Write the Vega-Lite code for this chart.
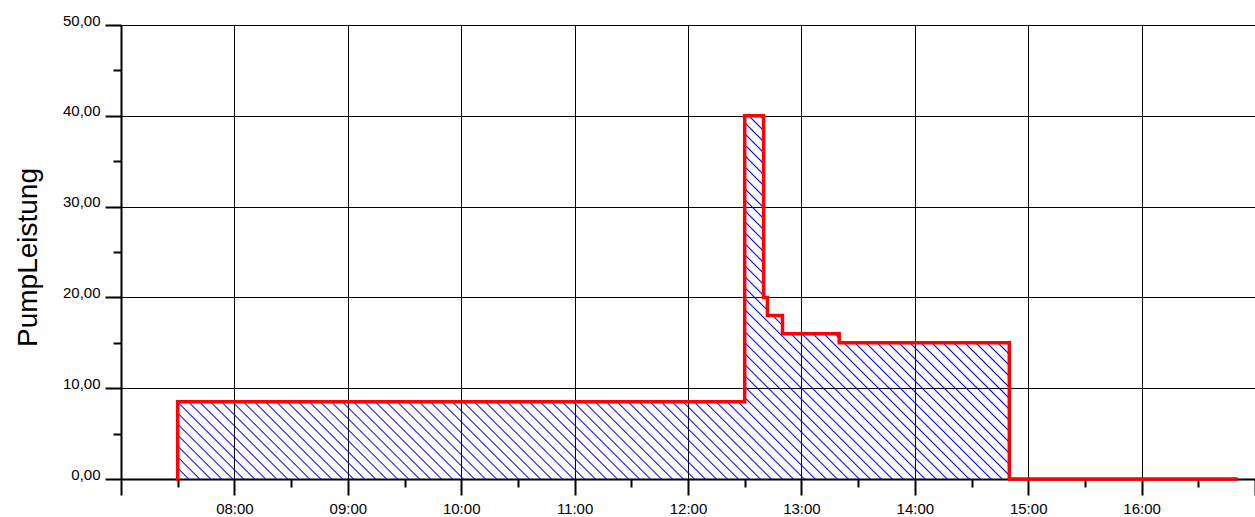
{
"$schema": "https://vega.github.io/schema/vega-lite/v6.json",
"width": 1134, "height": 454,
"autosize": {"type": "none"},
"padding": {"left": 121, "top": 25, "right": 0, "bottom": 38},
"background": "white",
"config": {"font": "Liberation Sans", "view": {"stroke": null}},
"data": {
"values": [
{"hour": 7.5, "p": 0},
{"hour": 7.5, "p": 8.5},
{"hour": 12.5, "p": 40},
{"hour": 12.6667, "p": 20},
{"hour": 12.7, "p": 18},
{"hour": 12.8333, "p": 16},
{"hour": 13.3333, "p": 15},
{"hour": 14.8333, "p": 0},
{"hour": 16.8333, "p": 0}
]
},
"layer": [
{
"transform": [{"filter": "datum.hour < 15"}],
"mark": {"type": "area", "interpolate": "step-after",
"fill": {"gradient": "linear", "x1": 0, "y1": 1, "x2": 1.20659, "y2": 0.47302, "stops": [
{"offset":0,"color":"#0000ff"},{"offset":0.0012,"color":"rgba(0,0,255,0)"},
{"offset":0.0080,"color":"rgba(0,0,255,0)"},{"offset":0.0092,"color":"#0000ff"},{"offset":0.0104,"color":"rgba(0,0,255,0)"},
{"offset":0.0172,"color":"rgba(0,0,255,0)"},{"offset":0.0184,"color":"#0000ff"},{"offset":0.0196,"color":"rgba(0,0,255,0)"},
{"offset":0.0264,"color":"rgba(0,0,255,0)"},{"offset":0.0276,"color":"#0000ff"},{"offset":0.0288,"color":"rgba(0,0,255,0)"},
{"offset":0.0356,"color":"rgba(0,0,255,0)"},{"offset":0.0368,"color":"#0000ff"},{"offset":0.0380,"color":"rgba(0,0,255,0)"},
{"offset":0.0448,"color":"rgba(0,0,255,0)"},{"offset":0.0460,"color":"#0000ff"},{"offset":0.0472,"color":"rgba(0,0,255,0)"},
{"offset":0.0540,"color":"rgba(0,0,255,0)"},{"offset":0.0552,"color":"#0000ff"},{"offset":0.0564,"color":"rgba(0,0,255,0)"},
{"offset":0.0632,"color":"rgba(0,0,255,0)"},{"offset":0.0644,"color":"#0000ff"},{"offset":0.0656,"color":"rgba(0,0,255,0)"},
{"offset":0.0724,"color":"rgba(0,0,255,0)"},{"offset":0.0736,"color":"#0000ff"},{"offset":0.0748,"color":"rgba(0,0,255,0)"},
{"offset":0.0816,"color":"rgba(0,0,255,0)"},{"offset":0.0828,"color":"#0000ff"},{"offset":0.0840,"color":"rgba(0,0,255,0)"},
{"offset":0.0908,"color":"rgba(0,0,255,0)"},{"offset":0.0920,"color":"#0000ff"},{"offset":0.0932,"color":"rgba(0,0,255,0)"},
{"offset":0.1000,"color":"rgba(0,0,255,0)"},{"offset":0.1012,"color":"#0000ff"},{"offset":0.1024,"color":"rgba(0,0,255,0)"},
{"offset":0.1092,"color":"rgba(0,0,255,0)"},{"offset":0.1104,"color":"#0000ff"},{"offset":0.1116,"color":"rgba(0,0,255,0)"},
{"offset":0.1184,"color":"rgba(0,0,255,0)"},{"offset":0.1196,"color":"#0000ff"},{"offset":0.1208,"color":"rgba(0,0,255,0)"},
{"offset":0.1276,"color":"rgba(0,0,255,0)"},{"offset":0.1288,"color":"#0000ff"},{"offset":0.1300,"color":"rgba(0,0,255,0)"},
{"offset":0.1368,"color":"rgba(0,0,255,0)"},{"offset":0.1380,"color":"#0000ff"},{"offset":0.1392,"color":"rgba(0,0,255,0)"},
{"offset":0.1460,"color":"rgba(0,0,255,0)"},{"offset":0.1472,"color":"#0000ff"},{"offset":0.1484,"color":"rgba(0,0,255,0)"},
{"offset":0.1552,"color":"rgba(0,0,255,0)"},{"offset":0.1564,"color":"#0000ff"},{"offset":0.1576,"color":"rgba(0,0,255,0)"},
{"offset":0.1644,"color":"rgba(0,0,255,0)"},{"offset":0.1656,"color":"#0000ff"},{"offset":0.1668,"color":"rgba(0,0,255,0)"},
{"offset":0.1736,"color":"rgba(0,0,255,0)"},{"offset":0.1748,"color":"#0000ff"},{"offset":0.1760,"color":"rgba(0,0,255,0)"},
{"offset":0.1828,"color":"rgba(0,0,255,0)"},{"offset":0.1840,"color":"#0000ff"},{"offset":0.1852,"color":"rgba(0,0,255,0)"},
{"offset":0.1920,"color":"rgba(0,0,255,0)"},{"offset":0.1932,"color":"#0000ff"},{"offset":0.1944,"color":"rgba(0,0,255,0)"},
{"offset":0.2012,"color":"rgba(0,0,255,0)"},{"offset":0.2024,"color":"#0000ff"},{"offset":0.2036,"color":"rgba(0,0,255,0)"},
{"offset":0.2104,"color":"rgba(0,0,255,0)"},{"offset":0.2116,"color":"#0000ff"},{"offset":0.2128,"color":"rgba(0,0,255,0)"},
{"offset":0.2196,"color":"rgba(0,0,255,0)"},{"offset":0.2208,"color":"#0000ff"},{"offset":0.2220,"color":"rgba(0,0,255,0)"},
{"offset":0.2288,"color":"rgba(0,0,255,0)"},{"offset":0.2300,"color":"#0000ff"},{"offset":0.2312,"color":"rgba(0,0,255,0)"},
{"offset":0.2380,"color":"rgba(0,0,255,0)"},{"offset":0.2392,"color":"#0000ff"},{"offset":0.2404,"color":"rgba(0,0,255,0)"},
{"offset":0.2472,"color":"rgba(0,0,255,0)"},{"offset":0.2484,"color":"#0000ff"},{"offset":0.2496,"color":"rgba(0,0,255,0)"},
{"offset":0.2564,"color":"rgba(0,0,255,0)"},{"offset":0.2576,"color":"#0000ff"},{"offset":0.2588,"color":"rgba(0,0,255,0)"},
{"offset":0.2656,"color":"rgba(0,0,255,0)"},{"offset":0.2668,"color":"#0000ff"},{"offset":0.2680,"color":"rgba(0,0,255,0)"},
{"offset":0.2748,"color":"rgba(0,0,255,0)"},{"offset":0.2760,"color":"#0000ff"},{"offset":0.2772,"color":"rgba(0,0,255,0)"},
{"offset":0.2840,"color":"rgba(0,0,255,0)"},{"offset":0.2852,"color":"#0000ff"},{"offset":0.2864,"color":"rgba(0,0,255,0)"},
{"offset":0.2932,"color":"rgba(0,0,255,0)"},{"offset":0.2944,"color":"#0000ff"},{"offset":0.2956,"color":"rgba(0,0,255,0)"},
{"offset":0.3024,"color":"rgba(0,0,255,0)"},{"offset":0.3036,"color":"#0000ff"},{"offset":0.3048,"color":"rgba(0,0,255,0)"},
{"offset":0.3116,"color":"rgba(0,0,255,0)"},{"offset":0.3128,"color":"#0000ff"},{"offset":0.3140,"color":"rgba(0,0,255,0)"},
{"offset":0.3208,"color":"rgba(0,0,255,0)"},{"offset":0.3220,"color":"#0000ff"},{"offset":0.3232,"color":"rgba(0,0,255,0)"},
{"offset":0.3300,"color":"rgba(0,0,255,0)"},{"offset":0.3312,"color":"#0000ff"},{"offset":0.3324,"color":"rgba(0,0,255,0)"},
{"offset":0.3392,"color":"rgba(0,0,255,0)"},{"offset":0.3404,"color":"#0000ff"},{"offset":0.3416,"color":"rgba(0,0,255,0)"},
{"offset":0.3484,"color":"rgba(0,0,255,0)"},{"offset":0.3496,"color":"#0000ff"},{"offset":0.3508,"color":"rgba(0,0,255,0)"},
{"offset":0.3576,"color":"rgba(0,0,255,0)"},{"offset":0.3588,"color":"#0000ff"},{"offset":0.3600,"color":"rgba(0,0,255,0)"},
{"offset":0.3668,"color":"rgba(0,0,255,0)"},{"offset":0.3680,"color":"#0000ff"},{"offset":0.3692,"color":"rgba(0,0,255,0)"},
{"offset":0.3760,"color":"rgba(0,0,255,0)"},{"offset":0.3772,"color":"#0000ff"},{"offset":0.3784,"color":"rgba(0,0,255,0)"},
{"offset":0.3852,"color":"rgba(0,0,255,0)"},{"offset":0.3864,"color":"#0000ff"},{"offset":0.3876,"color":"rgba(0,0,255,0)"},
{"offset":0.3944,"color":"rgba(0,0,255,0)"},{"offset":0.3956,"color":"#0000ff"},{"offset":0.3968,"color":"rgba(0,0,255,0)"},
{"offset":0.4036,"color":"rgba(0,0,255,0)"},{"offset":0.4048,"color":"#0000ff"},{"offset":0.4060,"color":"rgba(0,0,255,0)"},
{"offset":0.4128,"color":"rgba(0,0,255,0)"},{"offset":0.4140,"color":"#0000ff"},{"offset":0.4152,"color":"rgba(0,0,255,0)"},
{"offset":0.4220,"color":"rgba(0,0,255,0)"},{"offset":0.4232,"color":"#0000ff"},{"offset":0.4244,"color":"rgba(0,0,255,0)"},
{"offset":0.4312,"color":"rgba(0,0,255,0)"},{"offset":0.4324,"color":"#0000ff"},{"offset":0.4336,"color":"rgba(0,0,255,0)"},
{"offset":0.4404,"color":"rgba(0,0,255,0)"},{"offset":0.4416,"color":"#0000ff"},{"offset":0.4428,"color":"rgba(0,0,255,0)"},
{"offset":0.4496,"color":"rgba(0,0,255,0)"},{"offset":0.4508,"color":"#0000ff"},{"offset":0.4520,"color":"rgba(0,0,255,0)"},
{"offset":0.4588,"color":"rgba(0,0,255,0)"},{"offset":0.4600,"color":"#0000ff"},{"offset":0.4612,"color":"rgba(0,0,255,0)"},
{"offset":0.4680,"color":"rgba(0,0,255,0)"},{"offset":0.4692,"color":"#0000ff"},{"offset":0.4704,"color":"rgba(0,0,255,0)"},
{"offset":0.4772,"color":"rgba(0,0,255,0)"},{"offset":0.4784,"color":"#0000ff"},{"offset":0.4796,"color":"rgba(0,0,255,0)"},
{"offset":0.4864,"color":"rgba(0,0,255,0)"},{"offset":0.4876,"color":"#0000ff"},{"offset":0.4888,"color":"rgba(0,0,255,0)"},
{"offset":0.4956,"color":"rgba(0,0,255,0)"},{"offset":0.4968,"color":"#0000ff"},{"offset":0.4980,"color":"rgba(0,0,255,0)"},
{"offset":0.5048,"color":"rgba(0,0,255,0)"},{"offset":0.5060,"color":"#0000ff"},{"offset":0.5072,"color":"rgba(0,0,255,0)"},
{"offset":0.5140,"color":"rgba(0,0,255,0)"},{"offset":0.5152,"color":"#0000ff"},{"offset":0.5164,"color":"rgba(0,0,255,0)"},
{"offset":0.5232,"color":"rgba(0,0,255,0)"},{"offset":0.5244,"color":"#0000ff"},{"offset":0.5256,"color":"rgba(0,0,255,0)"},
{"offset":0.5324,"color":"rgba(0,0,255,0)"},{"offset":0.5336,"color":"#0000ff"},{"offset":0.5348,"color":"rgba(0,0,255,0)"},
{"offset":0.5416,"color":"rgba(0,0,255,0)"},{"offset":0.5428,"color":"#0000ff"},{"offset":0.5440,"color":"rgba(0,0,255,0)"},
{"offset":0.5508,"color":"rgba(0,0,255,0)"},{"offset":0.5520,"color":"#0000ff"},{"offset":0.5532,"color":"rgba(0,0,255,0)"},
{"offset":0.5600,"color":"rgba(0,0,255,0)"},{"offset":0.5612,"color":"#0000ff"},{"offset":0.5624,"color":"rgba(0,0,255,0)"},
{"offset":0.5692,"color":"rgba(0,0,255,0)"},{"offset":0.5704,"color":"#0000ff"},{"offset":0.5716,"color":"rgba(0,0,255,0)"},
{"offset":0.5784,"color":"rgba(0,0,255,0)"},{"offset":0.5796,"color":"#0000ff"},{"offset":0.5808,"color":"rgba(0,0,255,0)"},
{"offset":0.5876,"color":"rgba(0,0,255,0)"},{"offset":0.5888,"color":"#0000ff"},{"offset":0.5900,"color":"rgba(0,0,255,0)"},
{"offset":0.5968,"color":"rgba(0,0,255,0)"},{"offset":0.5980,"color":"#0000ff"},{"offset":0.5992,"color":"rgba(0,0,255,0)"},
{"offset":0.6060,"color":"rgba(0,0,255,0)"},{"offset":0.6072,"color":"#0000ff"},{"offset":0.6084,"color":"rgba(0,0,255,0)"},
{"offset":0.6152,"color":"rgba(0,0,255,0)"},{"offset":0.6164,"color":"#0000ff"},{"offset":0.6176,"color":"rgba(0,0,255,0)"},
{"offset":0.6244,"color":"rgba(0,0,255,0)"},{"offset":0.6256,"color":"#0000ff"},{"offset":0.6268,"color":"rgba(0,0,255,0)"},
{"offset":0.6336,"color":"rgba(0,0,255,0)"},{"offset":0.6348,"color":"#0000ff"},{"offset":0.6360,"color":"rgba(0,0,255,0)"},
{"offset":0.6428,"color":"rgba(0,0,255,0)"},{"offset":0.6440,"color":"#0000ff"},{"offset":0.6452,"color":"rgba(0,0,255,0)"},
{"offset":0.6520,"color":"rgba(0,0,255,0)"},{"offset":0.6532,"color":"#0000ff"},{"offset":0.6544,"color":"rgba(0,0,255,0)"},
{"offset":0.6612,"color":"rgba(0,0,255,0)"},{"offset":0.6624,"color":"#0000ff"},{"offset":0.6636,"color":"rgba(0,0,255,0)"},
{"offset":0.6704,"color":"rgba(0,0,255,0)"},{"offset":0.6716,"color":"#0000ff"},{"offset":0.6728,"color":"rgba(0,0,255,0)"},
{"offset":0.6796,"color":"rgba(0,0,255,0)"},{"offset":0.6808,"color":"#0000ff"},{"offset":0.6820,"color":"rgba(0,0,255,0)"},
{"offset":0.6888,"color":"rgba(0,0,255,0)"},{"offset":0.6900,"color":"#0000ff"},{"offset":0.6912,"color":"rgba(0,0,255,0)"},
{"offset":0.6980,"color":"rgba(0,0,255,0)"},{"offset":0.6992,"color":"#0000ff"},{"offset":0.7004,"color":"rgba(0,0,255,0)"},
{"offset":0.7072,"color":"rgba(0,0,255,0)"},{"offset":0.7084,"color":"#0000ff"},{"offset":0.7096,"color":"rgba(0,0,255,0)"},
{"offset":0.7164,"color":"rgba(0,0,255,0)"},{"offset":0.7176,"color":"#0000ff"},{"offset":0.7188,"color":"rgba(0,0,255,0)"},
{"offset":0.7256,"color":"rgba(0,0,255,0)"},{"offset":0.7268,"color":"#0000ff"},{"offset":0.7280,"color":"rgba(0,0,255,0)"},
{"offset":0.7348,"color":"rgba(0,0,255,0)"},{"offset":0.7360,"color":"#0000ff"},{"offset":0.7372,"color":"rgba(0,0,255,0)"},
{"offset":0.7440,"color":"rgba(0,0,255,0)"},{"offset":0.7452,"color":"#0000ff"},{"offset":0.7464,"color":"rgba(0,0,255,0)"},
{"offset":0.7532,"color":"rgba(0,0,255,0)"},{"offset":0.7544,"color":"#0000ff"},{"offset":0.7556,"color":"rgba(0,0,255,0)"},
{"offset":0.7624,"color":"rgba(0,0,255,0)"},{"offset":0.7636,"color":"#0000ff"},{"offset":0.7648,"color":"rgba(0,0,255,0)"},
{"offset":0.7716,"color":"rgba(0,0,255,0)"},{"offset":0.7728,"color":"#0000ff"},{"offset":0.7740,"color":"rgba(0,0,255,0)"},
{"offset":0.7808,"color":"rgba(0,0,255,0)"},{"offset":0.7820,"color":"#0000ff"},{"offset":0.7832,"color":"rgba(0,0,255,0)"},
{"offset":0.7900,"color":"rgba(0,0,255,0)"},{"offset":0.7912,"color":"#0000ff"},{"offset":0.7924,"color":"rgba(0,0,255,0)"},
{"offset":0.7992,"color":"rgba(0,0,255,0)"},{"offset":0.8004,"color":"#0000ff"},{"offset":0.8016,"color":"rgba(0,0,255,0)"},
{"offset":0.8084,"color":"rgba(0,0,255,0)"},{"offset":0.8096,"color":"#0000ff"},{"offset":0.8108,"color":"rgba(0,0,255,0)"},
{"offset":0.8176,"color":"rgba(0,0,255,0)"},{"offset":0.8188,"color":"#0000ff"},{"offset":0.8200,"color":"rgba(0,0,255,0)"},
{"offset":0.8268,"color":"rgba(0,0,255,0)"},{"offset":0.8280,"color":"#0000ff"},{"offset":0.8292,"color":"rgba(0,0,255,0)"},
{"offset":0.8360,"color":"rgba(0,0,255,0)"},{"offset":0.8372,"color":"#0000ff"},{"offset":0.8384,"color":"rgba(0,0,255,0)"},
{"offset":0.8452,"color":"rgba(0,0,255,0)"},{"offset":0.8464,"color":"#0000ff"},{"offset":0.8476,"color":"rgba(0,0,255,0)"},
{"offset":0.8544,"color":"rgba(0,0,255,0)"},{"offset":0.8556,"color":"#0000ff"},{"offset":0.8568,"color":"rgba(0,0,255,0)"},
{"offset":0.8636,"color":"rgba(0,0,255,0)"},{"offset":0.8648,"color":"#0000ff"},{"offset":0.8660,"color":"rgba(0,0,255,0)"},
{"offset":0.8728,"color":"rgba(0,0,255,0)"},{"offset":0.8740,"color":"#0000ff"},{"offset":0.8752,"color":"rgba(0,0,255,0)"},
{"offset":0.8820,"color":"rgba(0,0,255,0)"},{"offset":0.8832,"color":"#0000ff"},{"offset":0.8844,"color":"rgba(0,0,255,0)"},
{"offset":0.8912,"color":"rgba(0,0,255,0)"},{"offset":0.8924,"color":"#0000ff"},{"offset":0.8936,"color":"rgba(0,0,255,0)"},
{"offset":0.9004,"color":"rgba(0,0,255,0)"},{"offset":0.9016,"color":"#0000ff"},{"offset":0.9028,"color":"rgba(0,0,255,0)"},
{"offset":0.9096,"color":"rgba(0,0,255,0)"},{"offset":0.9108,"color":"#0000ff"},{"offset":0.9120,"color":"rgba(0,0,255,0)"},
{"offset":0.9188,"color":"rgba(0,0,255,0)"},{"offset":0.9200,"color":"#0000ff"},{"offset":0.9212,"color":"rgba(0,0,255,0)"},
{"offset":0.9280,"color":"rgba(0,0,255,0)"},{"offset":0.9292,"color":"#0000ff"},{"offset":0.9304,"color":"rgba(0,0,255,0)"},
{"offset":0.9372,"color":"rgba(0,0,255,0)"},{"offset":0.9384,"color":"#0000ff"},{"offset":0.9396,"color":"rgba(0,0,255,0)"},
{"offset":0.9464,"color":"rgba(0,0,255,0)"},{"offset":0.9476,"color":"#0000ff"},{"offset":0.9488,"color":"rgba(0,0,255,0)"},
{"offset":0.9556,"color":"rgba(0,0,255,0)"},{"offset":0.9568,"color":"#0000ff"},{"offset":0.9580,"color":"rgba(0,0,255,0)"},
{"offset":0.9648,"color":"rgba(0,0,255,0)"},{"offset":0.9660,"color":"#0000ff"},{"offset":0.9672,"color":"rgba(0,0,255,0)"},
{"offset":0.9740,"color":"rgba(0,0,255,0)"},{"offset":0.9752,"color":"#0000ff"},{"offset":0.9764,"color":"rgba(0,0,255,0)"},
{"offset":0.9832,"color":"rgba(0,0,255,0)"},{"offset":0.9844,"color":"#0000ff"},{"offset":0.9856,"color":"rgba(0,0,255,0)"},
{"offset":0.9924,"color":"rgba(0,0,255,0)"},{"offset":0.9936,"color":"#0000ff"},{"offset":0.9948,"color":"rgba(0,0,255,0)"},
{"offset":1,"color":"rgba(0,0,255,0)"}
]}},
"encoding": {
"x": {"field": "hour", "type": "quantitative",
"scale": {"domain": [7, 17], "nice": false, "zero": false},
"axis": {"orient": "bottom", "values": [7.5, 8.5, 9.5, 10.5, 11.5, 12.5, 13.5, 14.5, 15.5, 16.5], "tickSize": 8, "tickWidth": 2, "tickColor": "black", "labels": false, "domain": false, "grid": false, "title": null}},
"y": {"field": "p", "type": "quantitative",
"scale": {"domain": [0, 50], "nice": false},
"axis": {"orient": "left", "values": [5, 15, 25, 35, 45], "tickSize": 8, "tickWidth": 2, "tickColor": "black", "labels": false, "domain": false, "grid": false, "title": null}}
}
},
{
"mark": {"type": "line", "interpolate": "step-after", "color": "#ff0000", "strokeWidth": 3.5, "strokeJoin": "miter", "strokeCap": "square"},
"encoding": {
"x": {"field": "hour", "type": "quantitative",
"scale": {"domain": [7, 17], "nice": false, "zero": false},
"axis": {"orient": "bottom", "values": [7, 8, 9, 10, 11, 12, 13, 14, 15, 16, 17],
"labelExpr": "datum.value == 7 || datum.value == 17 ? '' : (datum.value < 10 ? '0' : '') + datum.value + ':00'",
"tickSize": 16, "tickWidth": 2, "tickColor": "black", "domainColor": "black", "domainWidth": 2,
"grid": true, "gridColor": "black", "gridWidth": 1, "gridOpacity": 1,
"labelFont": "Liberation Sans", "labelFontSize": 15, "labelColor": "black", "labelPadding": 6, "labelFlush": false, "labelOverlap": false, "title": null}},
"y": {"field": "p", "type": "quantitative",
"scale": {"domain": [0, 50], "nice": false},
"axis": {"orient": "left", "values": [0, 10, 20, 30, 40, 50],
"labelExpr": "replace(format(datum.value, '.2f'), '.', ',')",
"tickSize": 16, "tickWidth": 2, "tickColor": "black", "domainColor": "black", "domainWidth": 2,
"grid": true, "gridColor": "black", "gridWidth": 1, "gridOpacity": 1,
"labelFont": "Liberation Sans", "labelFontSize": 15, "labelColor": "black", "labelPadding": 5, "labelBaseline": "alphabetic", "labelOverlap": false,
"title": "PumpLeistung", "titleFont": "Liberation Sans", "titleFontSize": 28, "titleFontWeight": "normal", "titleColor": "black",
"titleX": -93, "titleY": 232, "titleAngle": -90, "titleAlign": "center", "titleBaseline": "middle"}}
}
}
],
"resolve": {"axis": {"x": "independent", "y": "independent"}}
}
